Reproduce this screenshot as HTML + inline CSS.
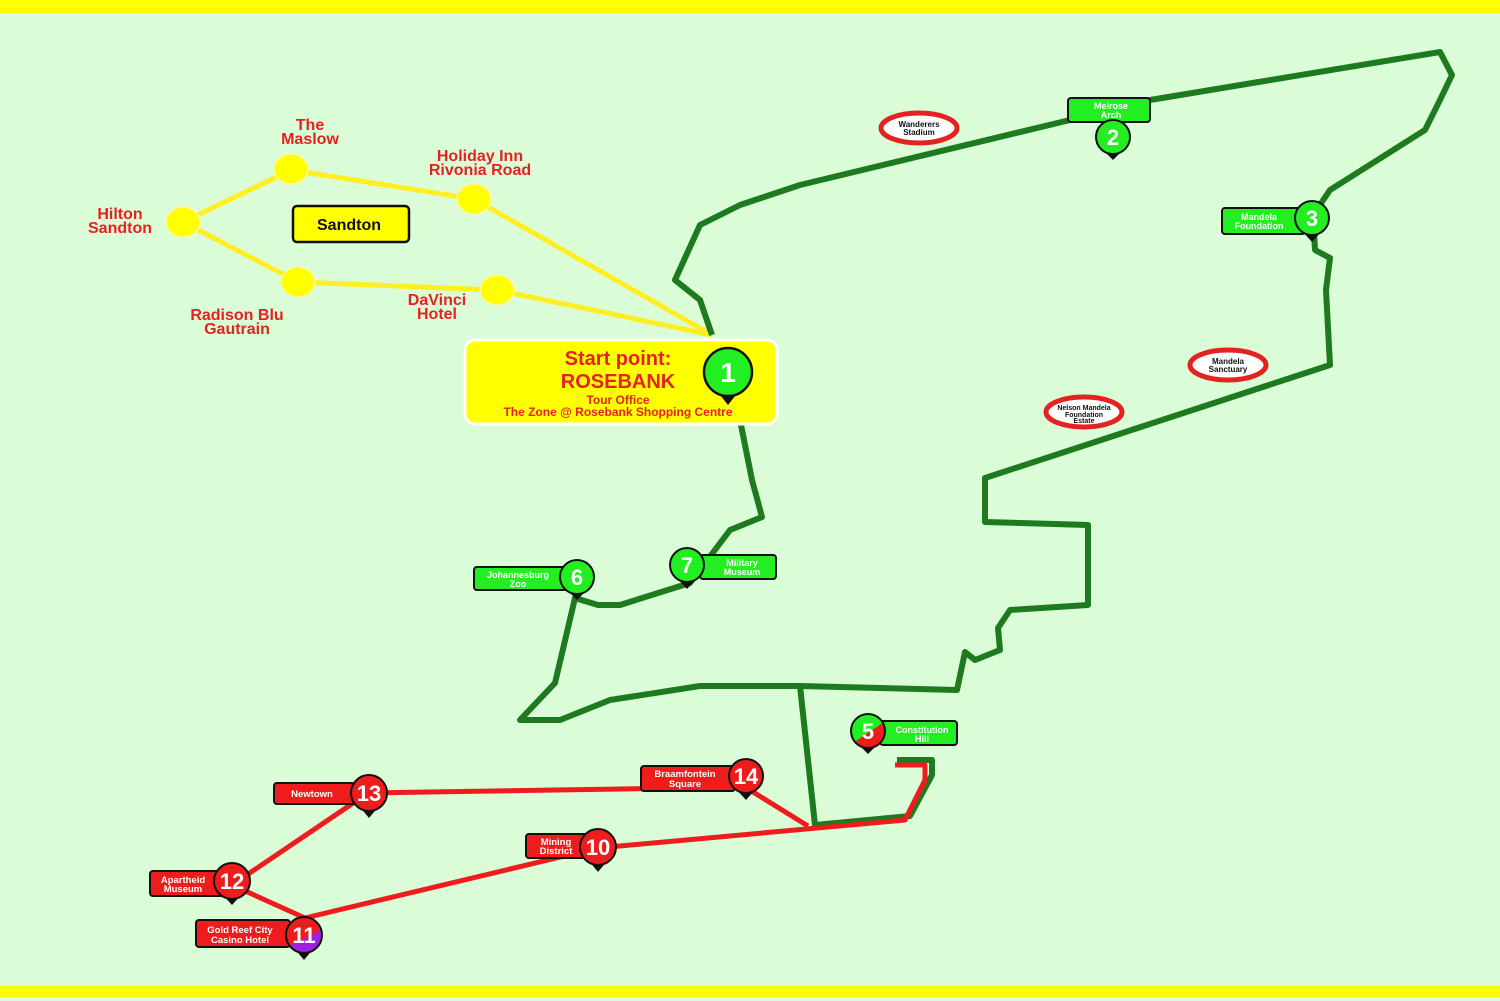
<!DOCTYPE html>
<html><head><meta charset="utf-8"><style>
html,body{margin:0;padding:0;background:#dafcd6}
svg{display:block}
text{font-family:"Liberation Sans",sans-serif;font-weight:bold}
</style></head><body>
<svg width="1500" height="1001" viewBox="0 0 1500 1001" xmlns="http://www.w3.org/2000/svg">
<rect width="1500" height="1001" fill="#dafcd6"/>
<rect x="0" y="0" width="1500" height="13" fill="#ffff00"/>
<rect x="0" y="986" width="1500" height="11" fill="#ffff00"/>

<!-- yellow Sandton lines -->
<g stroke="#ffee22" stroke-width="5" fill="none">
<polyline points="183,222 291,170 474,199 712,335"/>
<polyline points="183,222 298,282 497,290 712,335"/>
</g>
<g fill="#ffff00" stroke="#fff8a0" stroke-width="1.5">
<ellipse cx="183" cy="222" rx="17" ry="15"/>
<ellipse cx="291" cy="169" rx="17" ry="15"/>
<ellipse cx="474" cy="199" rx="17" ry="15"/>
<ellipse cx="298" cy="282" rx="17" ry="15"/>
<ellipse cx="497" cy="290" rx="17" ry="15"/>
</g>
<rect x="293" y="206" width="116" height="36" rx="4" fill="#ffff00" stroke="#111" stroke-width="2.5"/>
<text x="349" y="230" font-size="16" text-anchor="middle" fill="#111">Sandton</text>
<g fill="#e52222" font-size="16" text-anchor="middle">
<text x="310" y="130">The</text><text x="310" y="144">Maslow</text>
<text x="480" y="161">Holiday Inn</text><text x="480" y="175">Rivonia Road</text>
<text x="120" y="219">Hilton</text><text x="120" y="233">Sandton</text>
<text x="237" y="320">Radison Blu</text><text x="237" y="334">Gautrain</text>
<text x="437" y="305">DaVinci</text><text x="437" y="319">Hotel</text>
</g>

<!-- green route -->
<g stroke="#1e7a1e" stroke-width="6" fill="none" stroke-linejoin="round">
<polyline points="712,335 700,300 675,280 700,225 740,205 800,185 1070,120 1150,100 1440,52 1452,75 1440,100 1425,130 1330,190 1313,215 1315,250 1330,258 1326,290 1330,365 985,478 985,522 1088,525 1088,605 1010,610 998,628 1000,650 975,660 965,652 957,690 800,686 700,686 610,700 560,720 520,720 555,683 575,598 598,605 620,605 690,583 730,530 762,517 752,480 740,420"/>
<polyline points="800,686 815,825 910,816 932,775 932,760 897,760"/>
</g>
<!-- red route -->
<g stroke="#ee1c1c" stroke-width="5" fill="none" stroke-linejoin="round">
<polyline points="895,765 925,765 925,780 905,820 598,848 305,918 232,885 368,793 745,787 808,826"/>
</g>

<!-- POI ovals -->
<g font-size="8" text-anchor="middle" fill="#111">
<ellipse cx="919" cy="128" rx="38" ry="15" fill="#fff" stroke="#e52222" stroke-width="5"/>
<text x="919" y="127">Wanderers</text><text x="919" y="135">Stadium</text>
<ellipse cx="1228" cy="365" rx="38" ry="15" fill="#fff" stroke="#e52222" stroke-width="5"/>
<text x="1228" y="364">Mandela</text><text x="1228" y="372">Sanctuary</text>
<ellipse cx="1084" cy="412" rx="38" ry="15" fill="#fff" stroke="#e52222" stroke-width="5"/>
<text x="1084" y="410" font-size="7">Nelson Mandela</text><text x="1084" y="417" font-size="7">Foundation</text><text x="1084" y="423" font-size="7">Estate</text>
</g>

<!-- start box -->
<rect x="465" y="340" width="312" height="84" rx="10" fill="#ffff00" stroke="#fff" stroke-width="3"/>
<g fill="#e52222" text-anchor="middle">
<text x="618" y="365" font-size="20">Start point:</text>
<text x="618" y="388" font-size="20">ROSEBANK</text>
<text x="618" y="404" font-size="12">Tour Office</text>
<text x="618" y="416" font-size="12">The Zone @ Rosebank Shopping Centre</text>
</g>
<polygon points="716,390 740,390 728,405" fill="#111"/>
<circle cx="728" cy="372" r="24" fill="#22ee22" stroke="#111" stroke-width="2.5"/>
<text x="728" y="382" font-size="28" fill="#fff" text-anchor="middle">1</text>

<!-- green labels -->
<g stroke="#111" stroke-width="2" fill="#22ee22">
<rect x="1068" y="98" width="82" height="24" rx="3"/>
<rect x="1222" y="208" width="83" height="26" rx="3"/>
<rect x="474" y="567" width="94" height="23" rx="3"/>
<rect x="700" y="555" width="76" height="24" rx="3"/>
<rect x="880" y="721" width="77" height="24" rx="3"/>
</g>
<g fill="#fff" font-size="9" text-anchor="middle">
<text x="1111" y="109">Melrose</text><text x="1111" y="118">Arch</text>
<text x="1259" y="220">Mandela</text><text x="1259" y="229">Foundation</text>
<text x="518" y="578">Johannesburg</text><text x="518" y="587">Zoo</text>
<text x="742" y="566">Military</text><text x="742" y="575">Museum</text>
<text x="922" y="733">Constitution</text><text x="922" y="742">Hill</text>
</g>

<!-- red labels -->
<g stroke="#111" stroke-width="2" fill="#ee1c1c">
<rect x="641" y="766" width="94" height="25" rx="3"/>
<rect x="274" y="783" width="81" height="21" rx="3"/>
<rect x="526" y="834" width="64" height="24" rx="3"/>
<rect x="150" y="871" width="75" height="25" rx="3"/>
<rect x="196" y="920" width="94" height="27" rx="3"/>
</g>
<g fill="#fff" font-size="9.5" text-anchor="middle">
<text x="685" y="777">Braamfontein</text><text x="685" y="787">Square</text>
<text x="312" y="797">Newtown</text>
<text x="556" y="845">Mining</text><text x="556" y="854">District</text>
<text x="183" y="883">Apartheid</text><text x="183" y="892">Museum</text>
<text x="240" y="933">Gold Reef City</text><text x="240" y="943">Casino Hotel</text>
</g>

<defs>
<clipPath id="c5"><circle cx="868" cy="731" r="17"/></clipPath>
<clipPath id="c11"><circle cx="304" cy="935" r="18"/></clipPath>
</defs>

<!-- pins -->
<g stroke="none" fill="#111">
<polygon points="1103,150 1123,150 1113,160"/>
<polygon points="1302,231 1322,231 1312,242"/>
<polygon points="567,590 587,590 577,600"/>
<polygon points="677,578 697,578 687,589"/>
<polygon points="858,744 878,744 868,754"/>
<polygon points="736,789 756,789 746,800"/>
<polygon points="359,806 379,806 369,818"/>
<polygon points="588,860 608,860 598,872"/>
<polygon points="222,894 242,894 232,905"/>
<polygon points="294,948 314,948 304,960"/>
</g>
<g stroke="#111" stroke-width="2">
<circle cx="1113" cy="137" r="17" fill="#22ee22"/>
<circle cx="1312" cy="218" r="17" fill="#22ee22"/>
<circle cx="577" cy="577" r="17" fill="#22ee22"/>
<circle cx="687" cy="565" r="17" fill="#22ee22"/>
<circle cx="746" cy="776" r="17" fill="#ee1c1c"/>
<circle cx="369" cy="793" r="18" fill="#ee1c1c"/>
<circle cx="598" cy="847" r="18" fill="#ee1c1c"/>
<circle cx="232" cy="881" r="18" fill="#ee1c1c"/>
</g>
<g clip-path="url(#c5)"><rect x="850" y="713" width="40" height="40" fill="#22ee22"/><polygon points="850,745 890,718 890,753 850,753" fill="#ee1c1c"/></g>
<circle cx="868" cy="731" r="17" fill="none" stroke="#111" stroke-width="2"/>
<g clip-path="url(#c11)"><rect x="285" y="915" width="40" height="40" fill="#ee1c1c"/><polygon points="285,948 325,928 325,955 285,955" fill="#a020e0"/></g>
<circle cx="304" cy="935" r="18" fill="none" stroke="#111" stroke-width="2"/>
<g fill="#fff" text-anchor="middle" font-size="22">
<text x="1113" y="145">2</text>
<text x="1312" y="226">3</text>
<text x="577" y="585">6</text>
<text x="687" y="573">7</text>
<text x="868" y="739">5</text>
<text x="746" y="784">14</text>
<text x="369" y="801">13</text>
<text x="598" y="855">10</text>
<text x="232" y="889">12</text>
<text x="304" y="943">11</text>
</g>
</svg>
</body></html>
